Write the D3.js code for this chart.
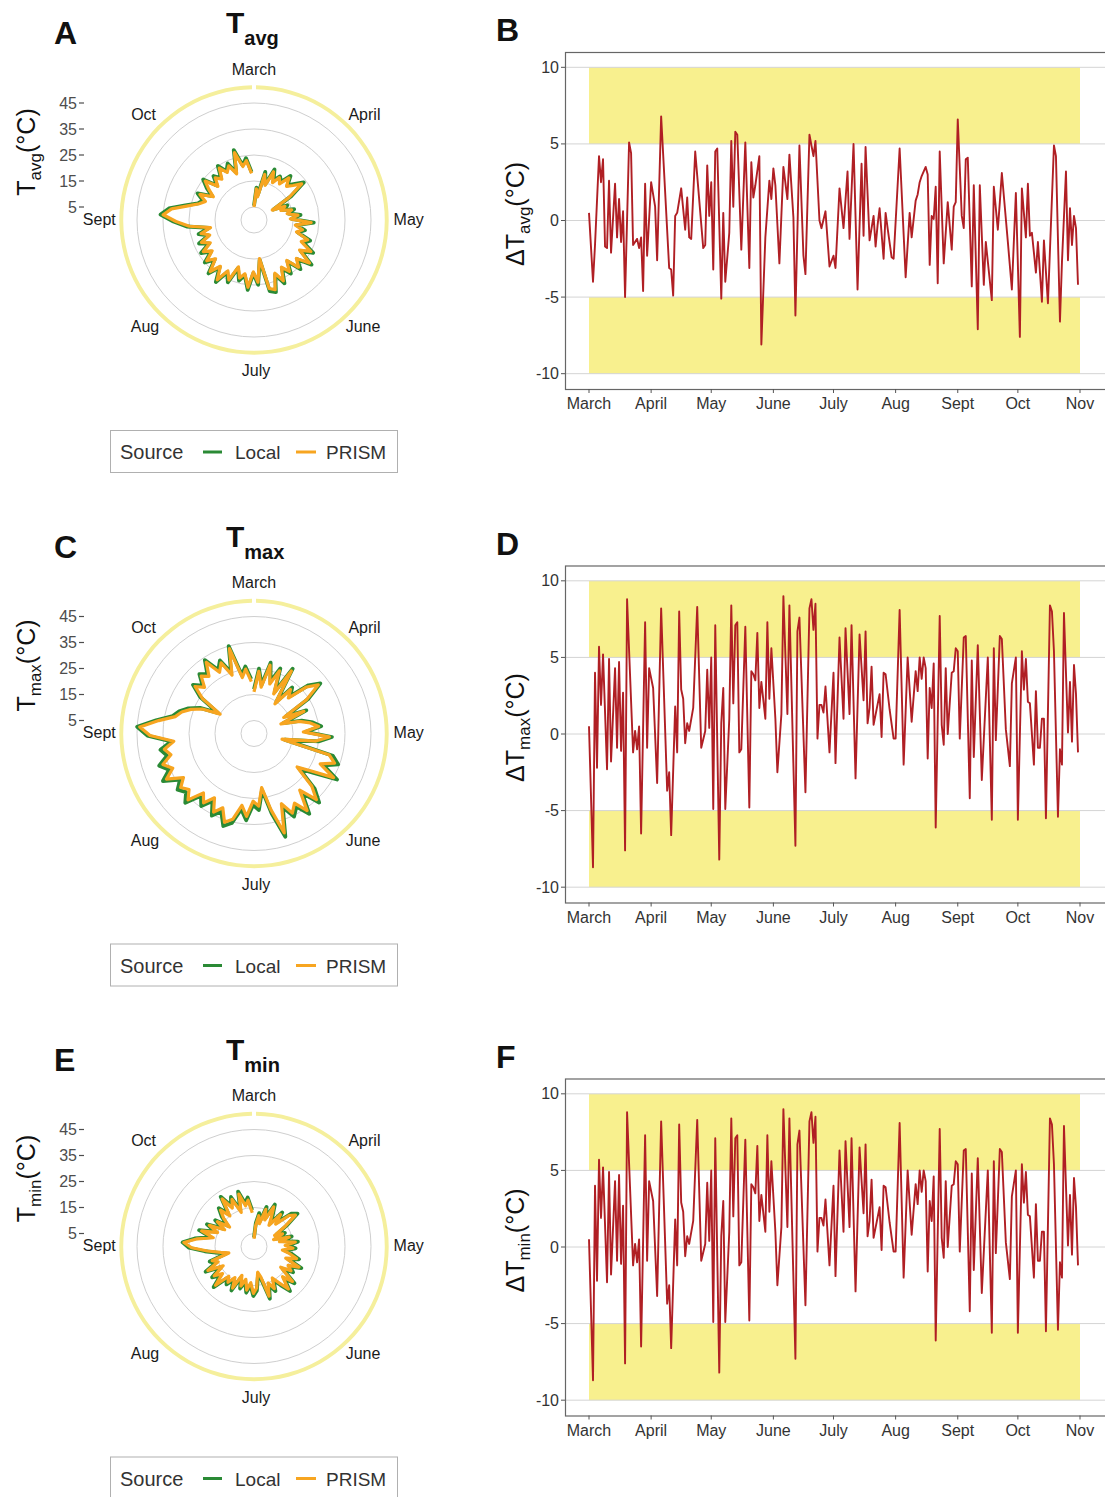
<!DOCTYPE html>
<html><head><meta charset="utf-8">
<script src="https://cdn.jsdelivr.net/npm/d3@7"></script>
<style>body{margin:0;background:#fff;} svg{display:block;font-family:"Liberation Sans",Arial,Helvetica,sans-serif;}</style>
</head><body><svg id="chart" width="1105" height="1497"></svg>
<script>
// ---------- data ----------
const monthLabels = ["March","April","May","June","July","Aug","Sept","Oct","Nov"];
const polarTicks = [5,15,25,35,45];
const deltaTicks = [10,5,0,-5,-10];
const bandRanges = [[5,10],[-10,-5]];
const panelLetters = [["A","B"],["C","D"],["E","F"]];
const varSubs = ["avg","max","min"];
const sourceNames = ["Local","PRISM"];
const polarStep = 3; // days between polar samples, starting March 1

const tavgPrism = [5,12,9,18,14,20,16,19,17,21,18,20,23,16,8,13,11,15,13,17,14,22,16,19,17,22,20,25,21,27,22,25,20,24,21,26,22,28,27,15,24,20,26,21,23,19,25,22,27,22,26,21,24,20,23,19,22,18,21,17,25,30,35,32,26,22,20,23,18,21,24,19,22,20,24,21,23,19,27,21,23,18];
const tavgLocal = [5.5,12.5,10,19,14.5,21,17,19.5,18,22,18.5,21,24,17,8.5,14,11.5,16,13.5,18,14.5,23,16.5,20,17.5,23,21,26,21.5,28,22.5,26,20.5,25,21.5,27,22.5,29,28,15.5,25,20.5,27,21.5,24,19.5,26,22.5,28,22.5,27,21.5,25,20.5,24,19.5,23,18.5,22,17.5,26,31,36,33,27,22.5,21,24,18.5,22,25,19.5,23,20.5,25,21.5,24,19.5,28,21.5,24,18.5];
const tmaxPrism = [16,24,18,27,20,26,17,28,14,22,19,27,31,24,13,21,11,18,22,25,19,29,24,11,30,33,28,35,26,21,30,35,28,36,31,34,29,40,30,21,28,26,32,28,34,36,31,34,29,33,30,36,33,35,32,38,34,37,33,35,31,40,44,37,31,29,26,22,15,24,29,26,30,28,33,27,30,24,34,22,25,20];
const tmaxLocal = [17,25,19,28,21,27,18,29,15,23,20,28,32,25,14,22,12,19,23,26,20,30,25,12,31.5,34.5,29.5,36.5,27.5,22,31.5,36.5,29.5,37.5,32.5,35.5,30.5,41.5,31.5,22,29.5,27.5,33.5,29.5,35.5,37.5,32.5,35.5,30.5,34.5,31.5,37.5,34.5,36.5,33.5,39.5,35.5,38.5,34.5,36.5,32,41,45,38,32,30,27,23,16,25,30,27,31,29,34,28,31,25,35,23,26,21];
const tminPrism = [3,8,12,9,15,11,17,13,10,16,12,18,20,14,9,12,8,14,10,16,12,15,11,14,17,13,19,15,17,13,20,16,21,17,14,18,15,20,12,10,16,18,14,17,13,16,12,18,14,17,15,21,16,19,14,20,15,17,10,13,18,24,27,22,16,21,15,19,13,17,12,16,19,15,22,17,20,14,21,16,18,13];
const tminLocal = [3.5,9,13,10,16,12,18,14,11,17,13,19,21,15,10,13,9,15,11,17,13,16,12,15,18,14,20,16,18,14,21,17,22,18,15,19,16,21,13,11,17,19,15,18,14,17,13,19,15,18,16,22,17,20,15,21,16,18,11,14,19,25,27.5,23,17,22,16,20,14,18,13,17,20,16,23,18,21,15,22,17,19,14];

// ΔT series: day offset from March 1, value
const dTavgDays = [0,2,3,5,6,7,8,9,10,11,13,14,15,16,17,18,20,21,22,24,25,26,27,28,29,31,33,34,36,40,41,42,43,44,46,48,49,50,51,53,57,58,59,60,61,62,63,64,66,67,68,70,71,72,73,74,76,78,80,81,82,83,85,86,88,90,91,92,93,95,97,99,100,102,103,105,107,108,110,112,113,115,116,118,120,122,123,125,127,129,130,132,134,136,137,138,140,142,143,144,145,147,148,149,151,152,155,158,160,161,163,164,165,166,168,169,170,171,172,173,174,175,177,179,181,182,183,184,186,187,188,189,191,192,194,195,197,198,201,202,204,205,206,209,211,213,215,216,218,219,220,221,223,224,226,227,229,232,233,235,236,238,239,240,241,242,243,244];
const dTavgValues = [0.5,-4.0,-1.6,4.2,2.5,4.0,-1.7,-1.8,2.6,-2.1,2.4,-1.1,1.4,-1.4,0.6,-5.0,5.1,4.4,-1.6,-1.2,-1.8,-1.1,-4.6,2.4,-2.3,2.5,0.9,-2.6,6.8,-3.1,-3.2,-4.9,0.3,0.5,2.1,-0.6,1.5,-1.1,-1.2,4.5,-1.8,-1.6,3.6,0.3,2.5,-3.2,4.5,4.7,-5.1,0.5,-4.0,-0.8,5.2,0.9,5.8,5.6,-1.9,5.1,-3.1,3.8,1.5,2.3,4.2,-8.1,-1.1,2.6,1.4,3.4,2.3,-2.8,3.5,1.4,4.3,0.2,-6.2,4.9,-2.3,-3.5,5.6,4.2,5.2,0.0,-0.5,0.6,-3.0,-2.3,-3.1,2.1,-0.5,3.2,-1.2,5.0,-4.5,3.7,-1.0,4.8,-1.3,0.3,-1.7,-0.3,0.8,-2.5,0.5,-0.5,-2.4,-2.5,4.7,-3.7,0.5,-1.1,1.3,1.7,2.5,2.9,3.5,3.0,-2.9,0.3,0.1,2.2,-4.1,4.5,-2.8,1.2,-1.9,0.9,1.2,6.6,0.3,-0.5,4.0,4.1,-4.3,2.3,-7.1,2.3,-4.2,-1.4,-5.2,2.2,-0.6,1.2,3.1,-1.4,-4.5,1.8,-7.6,2.1,-1.1,2.4,-1.0,-0.8,-3.4,-1.4,-5.3,-1.3,-5.4,4.9,4.2,-6.6,-2.7,3.2,-2.6,0.8,-1.6,0.3,-0.5,-4.2];

const dTmaxDays = [0,2,3,4,5,6,7,9,10,11,13,14,15,16,17,18,19,22,23,24,25,26,28,29,30,32,34,36,39,40,41,43,44,45,46,47,48,49,50,52,54,56,58,59,60,61,62,63,65,66,67,68,70,71,72,73,74,75,76,78,80,81,82,83,84,85,86,88,89,90,91,93,94,96,97,99,100,103,104,105,108,110,111,112,113,114,115,116,117,118,120,122,123,125,127,128,130,131,133,135,137,138,139,140,141,142,145,146,147,148,150,152,153,155,157,159,161,163,164,165,166,167,168,169,170,171,172,173,175,176,177,178,179,181,182,183,184,185,187,188,190,191,192,194,196,199,201,202,203,205,206,208,210,211,213,214,216,217,218,219,220,222,223,224,225,226,227,228,230,231,232,234,235,236,237,239,240,241,242,243,244];
const dTmaxValues = [0.5,-8.7,4.0,-2.2,5.7,1.9,5.2,-2.3,4.9,-1.8,4.3,-0.9,4.7,-1.1,2.7,-7.6,8.8,-1.2,0.2,-1.0,0.5,-6.5,7.3,-0.9,4.3,3.0,-3.2,8.2,-3.7,-2.5,-6.6,1.8,-1.2,8.0,2.9,2.3,-0.6,0.7,0.2,1.7,8.3,-0.9,0.2,4.2,0.4,5.0,-4.9,7.1,-8.2,0.7,3.0,-4.9,1.0,8.4,2.0,7.1,7.3,-1.2,-1.0,7.0,-4.8,4.1,3.9,3.5,6.6,1.7,3.4,1.0,7.3,2.3,5.6,1.0,-2.5,1.3,9.0,1.3,8.4,-7.3,6.7,7.6,-3.8,8.2,8.8,6.8,8.5,-0.3,1.9,1.9,1.4,3.1,-1.2,4.0,-1.9,6.3,1.0,6.9,1.3,7.1,-2.9,6.5,2.2,6.7,0.7,1.7,4.4,0.6,2.6,-0.2,4.0,3.9,1.6,-0.3,-0.3,8.1,-2.0,5.0,0.8,4.1,2.8,5.0,3.6,5.0,4.3,-1.6,3.0,1.7,4.6,-6.1,7.7,0.6,-0.7,4.3,0.0,4.0,4.1,5.6,5.4,-0.3,6.3,6.4,-4.2,4.8,-1.5,5.8,-3.0,5.0,-5.6,5.6,-0.4,6.4,6.2,0.3,-2.1,3.3,5.0,-5.6,5.4,2.9,4.9,2.1,2.0,-2.0,2.8,-0.9,-0.9,1.0,1.0,-5.5,8.4,8.0,5.4,-5.4,-1.0,-2.0,7.9,0.1,3.4,-0.5,4.5,2.6,-1.2];
// Panel F in the source figure shows the same series as panel D
const dTminDays = dTmaxDays.slice();
const dTminValues = dTmaxValues.slice();

const polarSeries = [[tavgLocal,tavgPrism],[tmaxLocal,tmaxPrism],[tminLocal,tminPrism]];
const deltaSeries = [[dTavgDays,dTavgValues],[dTmaxDays,dTmaxValues],[dTminDays,dTminValues]];

// ---------- drawing ----------
const colors = {Local:"#2a8a35", PRISM:"#f7a520"};
const svg = d3.select("#chart");
const start = new Date(2019,2,1), end = new Date(2019,10,1);
const toDate = d => d3.timeDay.offset(start, d);
const monthDates = d3.timeMonth.range(start, d3.timeDay.offset(end,1));
const rowOff = [0, 513.5, 1026.5];

const rScale = d3.scaleLinear().domain([0,45]).range([0,117]);
const aScale = d3.scaleTime().domain([start,end]).range([0, 2*Math.PI]);
const xScale = d3.scaleTime().domain([start,end]).range([589,1080]);

rowOff.forEach((off,k)=>{
  // ---- polar panel ----
  const cx = 254, cy = 220 + off;
  svg.append("text").attr("x",54).attr("y",44+off).attr("font-size",32).attr("font-weight","bold").attr("fill","#111").text(panelLetters[k][0]);
  const title = svg.append("text").attr("x",226).attr("y",33+off).attr("font-weight","bold").attr("fill","#111");
  title.append("tspan").text("T").attr("font-size",30);
  title.append("tspan").text(varSubs[k]).attr("font-size",20).attr("dy",12);

  const g = svg.append("g").attr("transform",`translate(${cx},${cy})`);
  g.selectAll("circle.grid").data(polarTicks).join("circle")
    .attr("r",d=>rScale(d)).attr("fill","none").attr("stroke","#cfcfcf").attr("stroke-width",1);
  g.append("path").attr("d", d3.arc()({innerRadius:rScale(50.3), outerRadius:rScale(51.8), startAngle:0.015, endAngle:2*Math.PI-0.015}))
    .attr("fill","#f5ef9c");
  // month labels
  g.selectAll("text.month").data(monthDates.slice(0,8)).join("text")
    .attr("x",d=>Math.sin(aScale(d))*rScale(59.5))
    .attr("y",d=>-Math.cos(aScale(d))*rScale(58)+5.5)
    .attr("text-anchor","middle").attr("font-size",16).attr("fill","#1a1a1a")
    .text((d,i)=>monthLabels[i]);
  // polar lines
  const line = d3.lineRadial().angle(d=>aScale(d.date)).radius(d=>rScale(d.v));
  sourceNames.forEach((s,j)=>{
    const data = polarSeries[k][j].map((v,i)=>({date:toDate(i*polarStep), v}));
    g.append("path").datum(data).attr("d",line).attr("fill","none")
      .attr("stroke",colors[s]).attr("stroke-width", j===0?3.8:3.2).attr("stroke-linejoin","round");
  });
  // radial axis
  polarTicks.forEach(t=>{
    svg.append("text").attr("x",77).attr("y",cy-rScale(t)+5.5).attr("text-anchor","end")
      .attr("font-size",16).attr("fill","#4d4d4d").text(t);
    svg.append("line").attr("x1",79).attr("x2",84).attr("y1",cy-rScale(t)).attr("y2",cy-rScale(t))
      .attr("stroke","#4d4d4d").attr("stroke-width",1.2);
  });
  const yt = svg.append("text").attr("transform",`translate(35,${152+off}) rotate(-90)`).attr("text-anchor","middle").attr("fill","#111");
  yt.append("tspan").text("T").attr("font-size",25);
  yt.append("tspan").text(varSubs[k]).attr("font-size",17).attr("dy",6);
  yt.append("tspan").text("(°C)").attr("font-size",25).attr("dy",-6);

  // legend
  const lg = svg.append("g").attr("transform",`translate(0,${off})`);
  lg.append("rect").attr("x",110.5).attr("y",430.5).attr("width",287).attr("height",42).attr("fill","#fff").attr("stroke","#b0b0b0");
  lg.append("text").attr("x",120).attr("y",459).attr("font-size",20).attr("fill","#333").text("Source");
  const legX = [[203,222,235],[296,316,326]];
  sourceNames.forEach((s,j)=>{
    lg.append("line").attr("x1",legX[j][0]).attr("x2",legX[j][1]).attr("y1",452).attr("y2",452).attr("stroke",colors[s]).attr("stroke-width",3);
    lg.append("text").attr("x",legX[j][2]).attr("y",459).attr("font-size",19).attr("fill","#333").text(s);
  });

  // ---- delta panel ----
  const yScale = d3.scaleLinear().domain([-11,11]).range([389+off, 52+off]);
  svg.append("text").attr("x",496).attr("y",41+off).attr("font-size",32).attr("font-weight","bold").attr("fill","#111").text(panelLetters[k][1]);
  const p = svg.append("g");
  p.selectAll("rect.band").data(bandRanges).join("rect")
    .attr("x",xScale(start)).attr("width",xScale(end)-xScale(start))
    .attr("y",d=>yScale(d[1])).attr("height",d=>yScale(d[0])-yScale(d[1]))
    .attr("fill","#f8f08e");
  p.selectAll("line.grid").data(deltaTicks).join("line")
    .attr("x1",565).attr("x2",1106).attr("y1",d=>yScale(d)).attr("y2",d=>yScale(d))
    .attr("stroke","#d4d4d4").attr("stroke-width",1);
  const ddata = deltaSeries[k][0].map((d,i)=>({date:toDate(d), v:deltaSeries[k][1][i]}));
  p.append("path").datum(ddata).attr("d", d3.line().x(d=>xScale(d.date)).y(d=>yScale(d.v)))
    .attr("fill","none").attr("stroke","#b01f24").attr("stroke-width",1.9).attr("stroke-linejoin","round");
  p.append("rect").attr("x",565.5).attr("y",yScale(11)+0.5).attr("width",545).attr("height",yScale(-11)-yScale(11))
    .attr("fill","none").attr("stroke","#666").attr("stroke-width",1.2);
  // y axis
  p.selectAll("text.yl").data(deltaTicks).join("text")
    .attr("x",559).attr("y",d=>yScale(d)+5.5).attr("text-anchor","end").attr("font-size",16).attr("fill","#333").text(d=>d);
  p.selectAll("line.yt").data(deltaTicks).join("line")
    .attr("x1",561).attr("x2",565).attr("y1",d=>yScale(d)).attr("y2",d=>yScale(d)).attr("stroke","#555");
  // x axis
  p.selectAll("line.xt").data(monthDates).join("line")
    .attr("x1",d=>xScale(d)).attr("x2",d=>xScale(d)).attr("y1",yScale(-11)).attr("y2",yScale(-11)+4).attr("stroke","#555");
  p.selectAll("text.xl").data(monthDates).join("text")
    .attr("x",d=>xScale(d)).attr("y",yScale(-11)+20).attr("text-anchor","middle").attr("font-size",16).attr("fill","#333")
    .text((d,i)=>monthLabels[i]);
  const dt = svg.append("text").attr("transform",`translate(524,${214+off}) rotate(-90)`).attr("text-anchor","middle").attr("fill","#111");
  dt.append("tspan").text("ΔT").attr("font-size",25);
  dt.append("tspan").text(varSubs[k]).attr("font-size",17).attr("dy",6);
  dt.append("tspan").text("(°C)").attr("font-size",25).attr("dy",-6);
});
</script></body></html>
